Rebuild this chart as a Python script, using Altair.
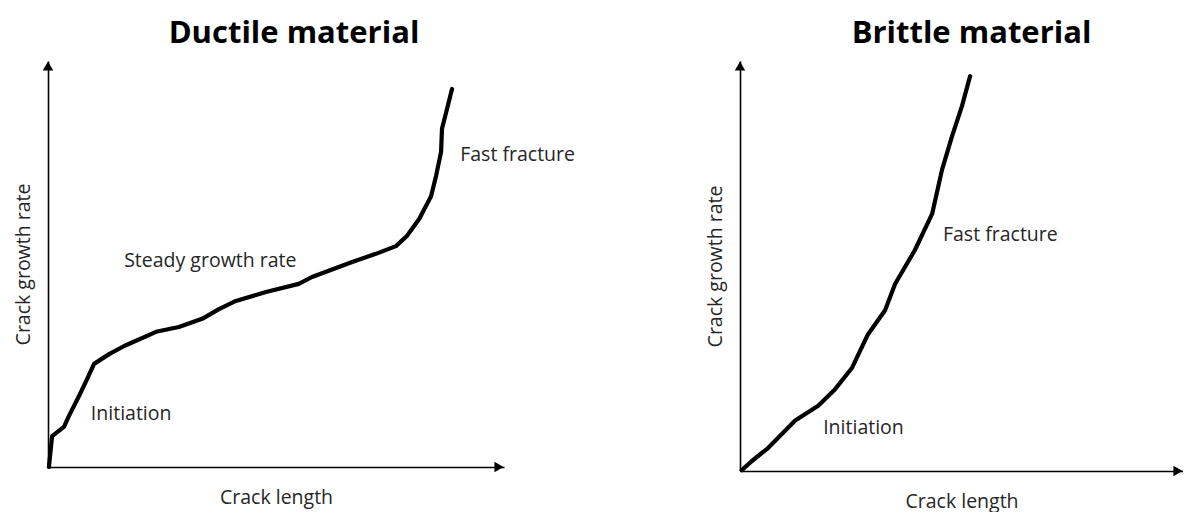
import altair as alt
import pandas as pd

# Ductile material curve (crack length, crack growth rate) in arbitrary units 0-100
ductile_x = [0.2, 0.9, 3.5, 4.6, 6.8, 8.6, 10.1, 13.4, 16.7, 23.7, 28.7, 33.8, 37.5, 41.2,
             47.8, 55.0, 57.9, 66.7, 71.9, 76.3, 78.7, 81.4, 84.0, 85.1, 86.2, 86.4, 87.5, 88.6]
ductile_y = [0.0, 7.6, 9.9, 12.6, 17.5, 21.7, 25.4, 27.8, 29.8, 33.3, 34.5, 36.5, 38.9, 40.9,
             43.1, 45.1, 46.8, 50.5, 52.5, 54.4, 56.9, 61.1, 66.7, 71.7, 77.6, 83.3, 88.2, 93.1]

# Brittle material curve
brittle_x = [0.4, 2.7, 6.2, 12.2, 17.3, 21.0, 24.8, 28.3, 32.1, 34.3, 38.7, 42.5, 44.7, 46.9, 49.1, 50.9]
brittle_y = [0.2, 2.5, 5.6, 12.3, 15.9, 19.9, 25.2, 33.3, 39.2, 45.6, 53.9, 62.7, 73.5, 81.6, 89.0, 96.3]

# Annotations
ductile_labels = ["Fast fracture", "Steady growth rate", "Initiation"]
ductile_label_x = [90.4, 16.7, 9.4]
ductile_label_y = [76.8, 50.7, 13.1]

brittle_labels = ["Fast fracture", "Initiation"]
brittle_label_x = [44.9, 18.4]
brittle_label_y = [57.6, 10.5]

titles = ["Ductile material", "Brittle material"]
x_title = "Crack length"
y_title = "Crack growth rate"

FONT = "Open Sans"
TXT = "#262626"
FS = 19.5


def panel(cx, cy, lx, ly, labels, title, w, h, title_dx, xmax):
    curve = pd.DataFrame({"x": cx, "y": cy, "order": list(range(len(cx)))})
    ann = pd.DataFrame({"x": lx, "y": ly, "label": labels})
    xs = alt.Scale(domain=[0, xmax], nice=False, zero=True)
    ys = alt.Scale(domain=[0, 100], nice=False, zero=True)
    xax = alt.Axis(title=x_title, ticks=False, labels=False, grid=False, domain=True,
                   domainColor="black", domainWidth=1.6, titleFont=FONT, titleFontSize=FS,
                   titleFontWeight="normal", titleColor=TXT, titlePadding=21)
    yax = alt.Axis(title=y_title, ticks=False, labels=False, grid=False, domain=True,
                   domainColor="black", domainWidth=1.6, titleFont=FONT, titleFontSize=FS,
                   titleFontWeight="normal", titleColor=TXT, titlePadding=15)
    line = alt.Chart(curve).mark_line(color="black", strokeWidth=4.2, strokeJoin="round",
                                      strokeCap="round").encode(
        x=alt.X("x:Q", scale=xs, axis=xax),
        y=alt.Y("y:Q", scale=ys, axis=yax),
        order="order:Q",
    )
    text = alt.Chart(ann).mark_text(align="left", baseline="middle", font=FONT,
                                    fontSize=FS, color=TXT).encode(
        x="x:Q", y="y:Q", text="label:N")
    up = alt.Chart(pd.DataFrame({"x": [0], "y": [100]})).mark_point(
        shape="triangle-up", filled=True, color="black", size=110, opacity=1, yOffset=5
    ).encode(x="x:Q", y="y:Q")
    right = alt.Chart(pd.DataFrame({"x": [xmax], "y": [0]})).mark_point(
        shape="triangle-right", filled=True, color="black", size=110, opacity=1, xOffset=-5
    ).encode(x="x:Q", y="y:Q")
    return alt.layer(line, text, up, right).properties(
        width=w, height=h,
        view=alt.ViewBackground(stroke="transparent", strokeWidth=0),
        title=alt.TitleParams(title, font=FONT, fontSize=31, fontWeight="bold",
                              color="black", anchor="middle", dx=title_dx, offset=11),
    )


left = panel(ductile_x, ductile_y, ductile_label_x, ductile_label_y, ductile_labels,
             titles[0], 456, 406, 18, 100)
right = panel(brittle_x, brittle_y, brittle_label_x, brittle_label_y, brittle_labels,
              titles[1], 443, 410, 10, 98)

chart = alt.hconcat(left, right, spacing=130).configure_view(
    stroke="transparent", strokeWidth=0).properties(
    padding={"left": 5, "top": 10, "right": 0, "bottom": 6},
    background="white")

chart.save("out.html", embed_options={"renderer": "svg", "actions": False})
